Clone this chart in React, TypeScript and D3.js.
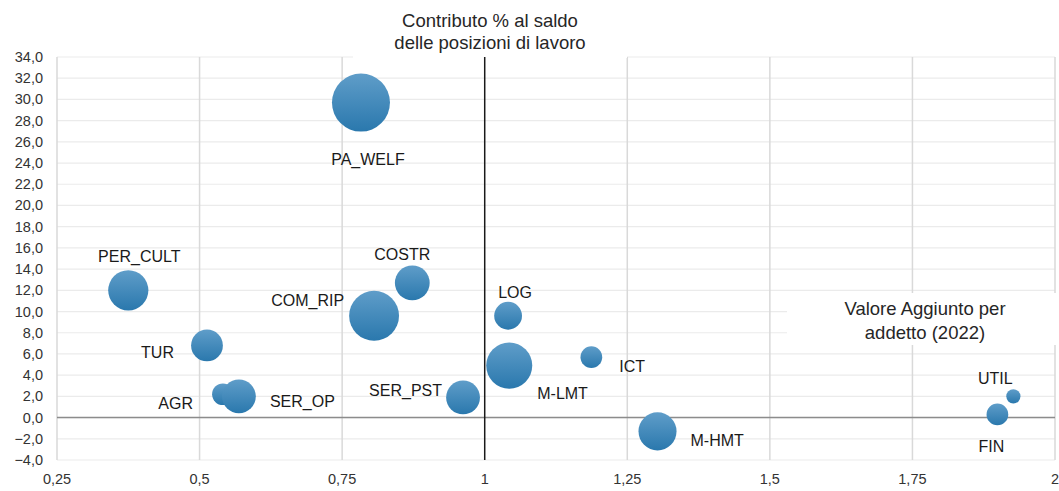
import React, { useEffect, useRef } from 'react';
import * as d3 from 'd3';

// Settori (etichette)
const sectors = ['PA_WELF', 'PER_CULT', 'TUR', 'AGR', 'SER_OP', 'COM_RIP', 'COSTR', 'SER_PST', 'LOG', 'M-LMT', 'ICT', 'M-HMT', 'FIN', 'UTIL'];
// Valore aggiunto per addetto (2022), indice
const valueAdded = [0.783, 0.375, 0.513, 0.541, 0.569, 0.806, 0.873, 0.962, 1.041, 1.043, 1.187, 1.303, 1.899, 1.927];
// Contributo % al saldo delle posizioni di lavoro
const contribution = [29.7, 12.0, 6.8, 2.2, 2.0, 9.6, 12.7, 1.9, 9.6, 4.9, 5.7, -1.3, 0.3, 2.0];
// Peso (dimensione della bolla)
const weight = [100, 48, 30, 14, 34, 74, 36, 34, 23, 63, 14, 43, 14, 6];

const xTicks = [0.25, 0.5, 0.75, 1, 1.25, 1.5, 1.75, 2];
const yTicks = d3.range(-4, 35, 2);

const titleLines = ['Contributo % al saldo', 'delle posizioni di lavoro'];
const xTitleLines = ['Valore Aggiunto per', 'addetto (2022)'];

// label placement: [dx, dy, anchor]
const labelPlace: Record<string, [number, number, string]> = {
  PA_WELF: [7, 62, 'middle'],
  PER_CULT: [11, -28, 'middle'],
  TUR: [-33, 13, 'end'],
  AGR: [-30, 15, 'end'],
  SER_OP: [31, 11, 'start'],
  COM_RIP: [-30, -10, 'end'],
  COSTR: [-10, -23, 'middle'],
  SER_PST: [-21, -1, 'end'],
  LOG: [7, -18, 'middle'],
  'M-LMT': [28, 33, 'start'],
  ICT: [28, 15, 'start'],
  'M-HMT': [33, 15, 'start'],
  FIN: [-6, 38, 'middle'],
  UTIL: [-18, -12, 'middle'],
};

const width = 1059;
const height = 491;
const font = '"Liberation Sans", Arial, sans-serif';

const App = () => {
  const svgRef = useRef<SVGSVGElement>(null);

  useEffect(() => {
    const svg = d3.select(svgRef.current);
    svg.selectAll('*').remove();

    const margin = { top: 57, right: 4, bottom: 31, left: 57 };

    const x = d3.scaleLinear().domain([0.25, 2]).range([margin.left, width - margin.right]);
    const y = d3.scaleLinear().domain([-4, 34]).range([height - margin.bottom, margin.top]);
    const r = d3.scaleSqrt().domain([0, 100]).range([0, 29]);

    const defs = svg.append('defs');
    const grad = defs.append('linearGradient')
      .attr('id', 'bubbleGrad')
      .attr('x1', 0).attr('y1', 0).attr('x2', 0).attr('y2', 1);
    grad.append('stop').attr('offset', '0%').attr('stop-color', '#5f9dc9');
    grad.append('stop').attr('offset', '100%').attr('stop-color', '#2a78ad');

    svg.append('rect').attr('width', width).attr('height', height).attr('fill', '#fff');

    // horizontal gridlines
    svg.append('g')
      .selectAll('line')
      .data(yTicks)
      .join('line')
      .attr('x1', x(0.25))
      .attr('x2', x(2))
      .attr('y1', d => y(d))
      .attr('y2', d => y(d))
      .attr('stroke', '#ebebeb')
      .attr('stroke-width', 1.2);

    // vertical gridlines
    svg.append('g')
      .selectAll('line')
      .data(xTicks.filter(d => d !== 1))
      .join('line')
      .attr('x1', d => x(d))
      .attr('x2', d => x(d))
      .attr('y1', y(34))
      .attr('y2', y(-4))
      .attr('stroke', '#d9d9d9')
      .attr('stroke-width', 1.5);

    // white boxes behind titles
    svg.append('rect')
      .attr('x', 353).attr('y', 0).attr('width', 274).attr('height', 58)
      .attr('fill', '#fff');
    svg.append('rect')
      .attr('x', 787).attr('y', 293).attr('width', 272).attr('height', 52)
      .attr('fill', '#fff');

    // zero line
    svg.append('line')
      .attr('x1', x(0.25)).attr('x2', x(2))
      .attr('y1', y(0)).attr('y2', y(0))
      .attr('stroke', '#8c8c8c')
      .attr('stroke-width', 1.5);

    // x = 1 axis
    svg.append('line')
      .attr('x1', x(1)).attr('x2', x(1))
      .attr('y1', y(34)).attr('y2', y(-4))
      .attr('stroke', '#1a1a1a')
      .attr('stroke-width', 1.5);

    const fmtY = (d: number) => d3.format('.1f')(d).replace('.', ',');
    const fmtX = (d: number) => String(d).replace('.', ',');

    svg.append('g')
      .selectAll('text')
      .data(yTicks)
      .join('text')
      .attr('x', 43)
      .attr('y', d => y(d) + 5)
      .attr('text-anchor', 'end')
      .style('font-family', font)
      .style('font-size', '14.5px')
      .attr('fill', '#333')
      .text(fmtY);

    svg.append('g')
      .selectAll('text')
      .data(xTicks)
      .join('text')
      .attr('x', d => x(d))
      .attr('y', 484)
      .attr('text-anchor', 'middle')
      .style('font-family', font)
      .style('font-size', '14.5px')
      .attr('fill', '#333')
      .text(fmtX);

    // titles
    svg.append('g')
      .selectAll('text')
      .data(titleLines)
      .join('text')
      .attr('x', 490)
      .attr('y', (d, i) => 27 + i * 22)
      .attr('text-anchor', 'middle')
      .style('font-family', font)
      .style('font-size', '18.5px')
      .attr('fill', '#262626')
      .text(d => d);

    svg.append('g')
      .selectAll('text')
      .data(xTitleLines)
      .join('text')
      .attr('x', 925)
      .attr('y', (d, i) => 315 + i * 24)
      .attr('text-anchor', 'middle')
      .style('font-family', font)
      .style('font-size', '18.5px')
      .attr('fill', '#262626')
      .text(d => d);

    const data = sectors.map((s, i) => ({
      name: s,
      x: valueAdded[i],
      y: contribution[i],
      w: weight[i],
    }));

    // bubbles
    svg.append('g')
      .selectAll('circle')
      .data(data)
      .join('circle')
      .attr('cx', d => x(d.x))
      .attr('cy', d => y(d.y))
      .attr('r', d => r(d.w))
      .attr('fill', 'url(#bubbleGrad)');

    // labels
    svg.append('g')
      .selectAll('text')
      .data(data)
      .join('text')
      .attr('x', d => x(d.x) + labelPlace[d.name][0])
      .attr('y', d => y(d.y) + labelPlace[d.name][1])
      .attr('text-anchor', d => labelPlace[d.name][2])
      .style('font-family', font)
      .style('font-size', '16px')
      .attr('fill', '#1a1a1a')
      .text(d => d.name);
  }, []);

  return (
    <svg
      ref={svgRef}
      width={width}
      height={height}
      style={{ position: 'absolute', left: 0, top: 0, display: 'block' }}
    />
  );
};

export default App;
